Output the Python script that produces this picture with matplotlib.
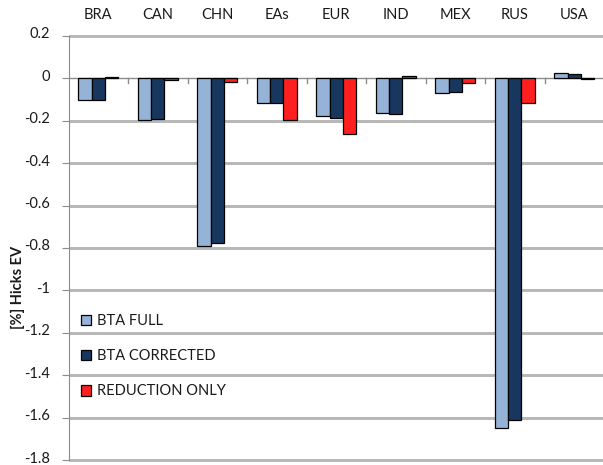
import matplotlib
matplotlib.use("Agg")
import matplotlib.pyplot as plt
import matplotlib.transforms as mtransforms
import numpy as np

plt.rcParams['font.family'] = ['Lato', 'DejaVu Sans']

regions = ["BRA", "CAN", "CHN", "EAs", "EUR", "IND", "MEX", "RUS", "USA"]
bta_full = [-0.103, -0.198, -0.79, -0.114, -0.178, -0.162, -0.068, -1.648, 0.027]
bta_corrected = [-0.100, -0.191, -0.776, -0.118, -0.186, -0.167, -0.065, -1.613, 0.022]
reduction_only = [0.006, -0.008, -0.015, -0.197, -0.263, 0.012, -0.020, -0.118, -0.003]
series_names = ["BTA FULL", "BTA CORRECTED", "REDUCTION ONLY"]
colors = ["#95b3d7", "#17375e", "#ff1f1f"]
y_ticks = [0.2, 0, -0.2, -0.4, -0.6, -0.8, -1, -1.2, -1.4, -1.6, -1.8]

W, H = 603, 465
fig = plt.figure(figsize=(W / 100, H / 100), dpi=100)
ax = fig.add_axes([68.5 / W, 1 - 460 / H, (604 - 68.5) / W, (460 - 36) / H])

n = len(regions)
centers = np.arange(n) + 0.5
bw = 0.225

# horizontal gridlines, drawn crisp (no antialiasing) beneath the bars
grid_vals = [t for t in y_ticks if t != 0]
ax.hlines(grid_vals, 0, n, colors="#b8b8b8", linewidth=1.0, zorder=1,
          antialiased=False, clip_on=False)

for k, (vals, name, c) in enumerate(zip([bta_full, bta_corrected, reduction_only], series_names, colors)):
    ax.bar(centers + (k - 1) * bw, vals, width=bw, color=c, edgecolor="black",
           linewidth=0.9, label=name, zorder=3)

ax.set_xlim(0, n)
ax.set_ylim(-1.8, 0.2)
ax.set_yticks(y_ticks)
ax.set_yticklabels([f"{t:g}" for t in y_ticks])

for s in ["right", "bottom", "top"]:
    ax.spines[s].set_visible(False)
ax.spines["left"].set_color("#8c8c8c")
ax.tick_params(axis="y", length=5, color="#8c8c8c", pad=8, labelsize=10.5, labelcolor="#1a1a1a")
# nudge the value labels slightly upward
shift = mtransforms.ScaledTranslation(0, 3 / 100, fig.dpi_scale_trans)
for lab in ax.get_yticklabels():
    lab.set_transform(lab.get_transform() + shift)

# category names along the top
ax.xaxis.tick_top()
ax.set_xticks(centers)
ax.set_xticklabels(regions)
ax.tick_params(axis="x", length=0, pad=10, labelsize=10.5, labelcolor="#1a1a1a")

# zero axis with short separators between categories
ax.axhline(0, color="#8c8c8c", linewidth=1.0, zorder=2.6)
for xb in np.arange(1, n):
    ax.plot([xb, xb], [0, -0.02], color="#8c8c8c", linewidth=1.0, zorder=2.6)

fig.text(18 / W, 1 - 287 / H, "[%] Hicks EV", rotation=90, ha="center", va="center",
         fontsize=10.5, fontweight="bold", color="#1a1a1a")

leg = ax.legend(loc="upper left", bbox_to_anchor=(12 / 535.5, 1 - (314 - 36) / 424),
                frameon=False, fontsize=10.5, handlelength=0.75, handleheight=0.75,
                handletextpad=0.35, labelspacing=1.45, borderpad=0, borderaxespad=0)
for t in leg.get_texts():
    t.set_color("#1a1a1a")

fig.savefig("out.png", dpi=100)
